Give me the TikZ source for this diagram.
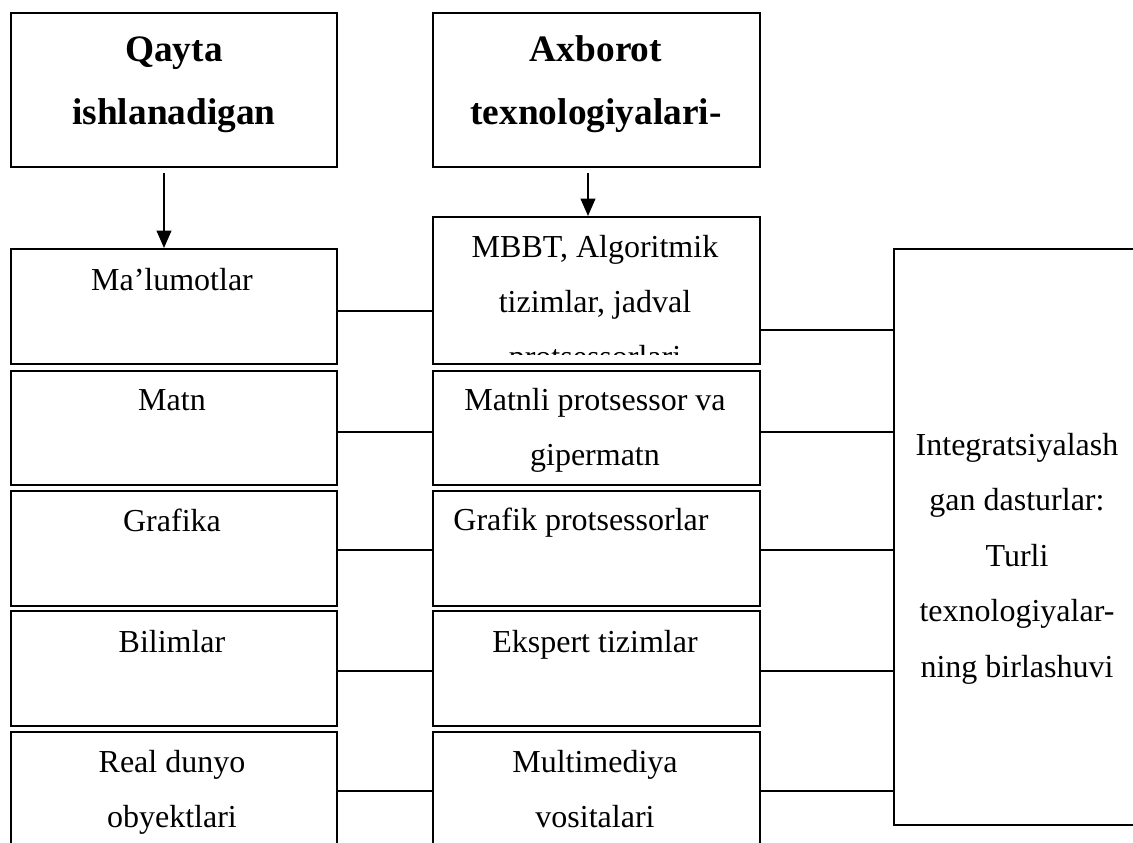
\documentclass[tikz,border=0pt]{standalone}
\usepackage{fontspec}
\setmainfont{Liberation Serif}
\usetikzlibrary{fit,arrows.meta}
% invisible strut that fixes the top of the first text line
\newcommand\hstrut{\rule{0pt}{11pt}}
\begin{document}
\begin{tikzpicture}[x=0.375pt,y=-0.375pt,
  box/.style={draw, line width=0.75pt, inner sep=0pt},
  txt/.style={anchor=north, align=center, inner sep=0pt,
              font=\fontsize{12pt}{20.7pt}\selectfont},
  head/.style={txt, font=\fontsize{14pt}{23.6pt}\selectfont\bfseries},
  link/.style={line width=0.7pt},
  arr/.style={line width=0.7pt, -{Triangle[width=5.5pt,length=6.5pt]},
              shorten <=1.9pt}]
\useasboundingbox (0,0) rectangle (1133,843);

% header boxes
\node[box, fit={(11,13) (337,167)}] (q) {};
\node[box, fit={(433,13) (760,167)}] (a) {};
\node[head] (tq) at (174,31.67) {\hstrut Qayta\\ishlanadigan};
\node[head] (ta) at (596,31.67) {\hstrut Axborot\\texnologiyalari-};

% left column: kinds of information
\node[box, fit={(11,249) (337,364)}] (d1) {};
\node[box, fit={(11,371) (337,485)}] (d2) {};
\node[box, fit={(11,491) (337,606)}] (d3) {};
\node[box, fit={(11,611) (337,726)}] (d4) {};
\node[box, fit={(11,732) (337,870)}] (d5) {};
\node[txt] (td1) at (172,260.67) {\hstrut Ma’lumotlar};
\node[txt] (td2) at (172,380.67) {\hstrut Matn};
\node[txt] (td3) at (172,501.67) {\hstrut Grafika};
\node[txt] (td4) at (172,622.67) {\hstrut Bilimlar};
\node[txt] (td5) at (172,742.67) {\hstrut Real dunyo\\obyektlari};

% middle column: technologies
\node[box, fit={(433,217) (760,364)}] (m1) {};
\node[box, fit={(433,371) (760,485)}] (m2) {};
\node[box, fit={(433,491) (760,606)}] (m3) {};
\node[box, fit={(433,611) (760,726)}] (m4) {};
\node[box, fit={(433,732) (760,870)}] (m5) {};
\begin{scope}
  \clip (433,217) rectangle (760,355);
  \node[txt] (tm1) at (595,227.67)
    {\hstrut MBBT, Algoritmik\\tizimlar, jadval\\protsessorlari};
\end{scope}
\node[txt] (tm2) at (595,380.67) {\hstrut Matnli protsessor va\\gipermatn};
\node[txt] (tm3) at (581,500.67) {\hstrut Grafik protsessorlar};
\node[txt] (tm4) at (595,622.67) {\hstrut Ekspert tizimlar};
\node[txt] (tm5) at (595,742.67) {\hstrut Multimediya\\vositalari};

% right column: integrated software
\node[box, fit={(894,249) (1140,825)}] (r) {};
\node[txt, font=\fontsize{12pt}{20.8pt}\selectfont] (tr) at (1017,425.67)
  {\hstrut Integratsiyalash\\gan dasturlar:\\Turli\\texnologiyalar-\\ning birlashuvi};

% arrows from the headers
\coordinate (xq) at (164,0);
\coordinate (xa) at (588,0);
\draw[arr] (q.south -| xq) -- (d1.north -| xq);
\draw[arr] (a.south -| xa) -- (m1.north -| xa);

% horizontal links between the columns
\coordinate (h1) at (0,311);
\coordinate (h2) at (0,432);
\coordinate (h3) at (0,550);
\coordinate (h4) at (0,671);
\coordinate (h5) at (0,791);
\coordinate (k1) at (0,330);
\draw[link] (d1.east |- h1) -- (m1.west |- h1);
\draw[link] (d2.east |- h2) -- (m2.west |- h2);
\draw[link] (d3.east |- h3) -- (m3.west |- h3);
\draw[link] (d4.east |- h4) -- (m4.west |- h4);
\draw[link] (d5.east |- h5) -- (m5.west |- h5);
\draw[link] (m1.east |- k1) -- (r.west |- k1);
\draw[link] (m2.east |- h2) -- (r.west |- h2);
\draw[link] (m3.east |- h3) -- (r.west |- h3);
\draw[link] (m4.east |- h4) -- (r.west |- h4);
\draw[link] (m5.east |- h5) -- (r.west |- h5);
\end{tikzpicture}
\end{document}
